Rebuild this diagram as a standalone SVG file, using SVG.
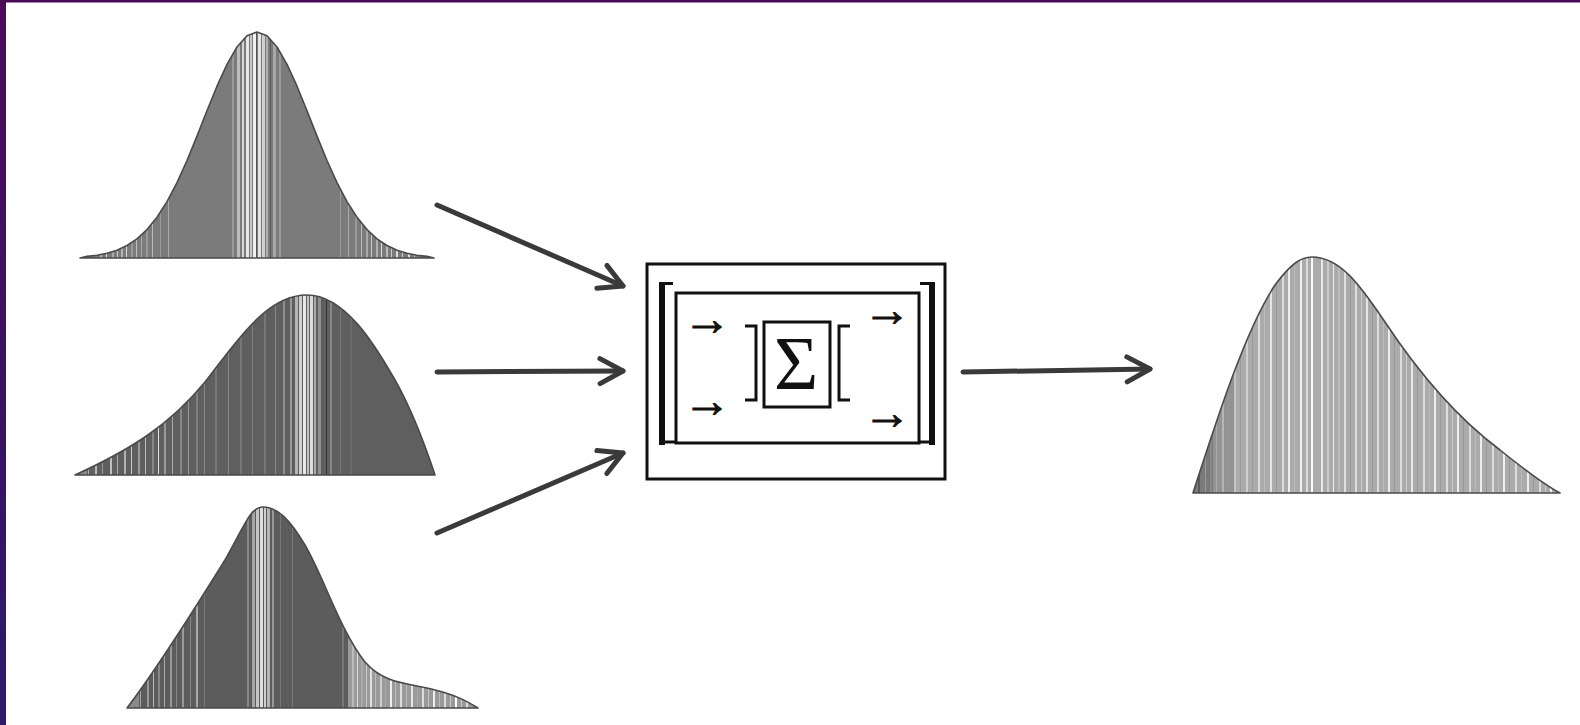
<svg xmlns="http://www.w3.org/2000/svg" xmlns:xlink="http://www.w3.org/1999/xlink" width="1580" height="725" viewBox="0 0 1580 725">
<style>
.outline{fill:none;stroke:#4a4a4a;stroke-width:1.6;stroke-linejoin:round}
.conn{fill:none;stroke:#3a3a3a;stroke-width:5;stroke-linecap:round}
.blk{fill:none;stroke:#111;stroke-width:3}
.gl{font-family:"Liberation Serif","DejaVu Serif",serif;fill:#111}
.arr{font-size:48px;stroke:#111;stroke-width:0.9}
#c1s rect{y:28px;height:234px}
#c2s rect{y:290px;height:190px}
#c3s rect{y:500px;height:212px}
#c4s rect{y:252px;height:244px}
</style>
<defs>
<linearGradient id="frame" x1="0" y1="0" x2="0" y2="1">
<stop offset="0" stop-color="#4b0a57"/><stop offset="1" stop-color="#2c1a6b"/>
</linearGradient>
<marker id="ah" markerUnits="userSpaceOnUse" viewBox="-30 -18 36 36" refX="0" refY="0" markerWidth="36" markerHeight="36" orient="auto">
<path d="M-23,-12.5 L0,0 L-23,12.5" fill="none" stroke="#3a3a3a" stroke-width="5" stroke-linecap="round" stroke-linejoin="round"/>
</marker>
<path id="p1" d="M80,258 L87,256.4 97,255.2 107,253.2 117,250.2 127,245.5 137,238.9 147,229.6 157,217.3 167,201.6 177,182.6 187,160.5 197,136.1 207,110.8 217,86.2 227,64.3 237,47 247,35.8 257,32 267,35.8 277,47 287,64.3 297,86.2 307,110.8 317,136.1 327,160.5 337,182.6 347,201.6 357,217.3 367,229.6 377,238.9 387,245.5 397,250.2 407,253.2 417,255.2 427,256.4 434,258 Z"/>
<path id="p2" d="M75,475 C130,450 170,425 205,382 C245,330 270,295 307,295 C345,295 375,345 395,380 C412,410 425,445 435,475 Z"/>
<path id="p3" d="M127,708 C160,665 200,600 225,560 C245,525 250,507 263,507 C278,507 290,520 305,545 C325,580 340,630 365,662 C385,685 410,683 435,690 C455,695 465,700 478,708 Z"/>
<path id="p4" d="M1193,493 C1215,425 1245,330 1275,285 C1290,265 1300,257 1312,257 C1340,257 1360,285 1385,322 C1420,375 1460,420 1500,450 C1525,470 1545,485 1560,493 Z"/>
<clipPath id="k1"><use xlink:href="#p1"/></clipPath>
<clipPath id="k2"><use xlink:href="#p2"/></clipPath>
<clipPath id="k3"><use xlink:href="#p3"/></clipPath>
<clipPath id="k4"><use xlink:href="#p4"/></clipPath>
</defs>
<rect x="0" y="0" width="1580" height="725" fill="#ffffff"/>
<rect x="0" y="0" width="1580" height="2.5" fill="#4b0a57"/>
<rect x="0" y="0" width="6" height="725" fill="url(#frame)"/>

<g id="dist1">
<use xlink:href="#p1" fill="#7b7b7b"/>
<g id="c1s" clip-path="url(#k1)">
<rect x="100" width="2" fill="#bbb"/><rect x="106" width="1" fill="#ddd"/><rect x="112" width="2" fill="#aaa"/><rect x="117" width="1" fill="#ccc"/><rect x="121" width="2" fill="#b5b5b5"/><rect x="126" width="1" fill="#ddd"/><rect x="131" width="2" fill="#999"/><rect x="136" width="1" fill="#c0c0c0"/><rect x="141" width="1" fill="#aaa"/><rect x="146" width="2" fill="#999"/><rect x="152" width="1" fill="#bbb"/><rect x="160" width="1" fill="#999"/><rect x="168" width="1" fill="#aaa"/>
<rect x="232" width="2" fill="#999"/><rect x="237" width="3" fill="#bdbdbd"/><rect x="242" width="2" fill="#d5d5d5"/><rect x="246" width="3" fill="#e8e8e8"/><rect x="250" width="2" fill="#c8c8c8"/><rect x="253" width="3" fill="#f0f0f0"/><rect x="256" width="1" fill="#555"/><rect x="258" width="3" fill="#e5e5e5"/><rect x="262" width="3" fill="#cfcfcf"/><rect x="266" width="2" fill="#b0b0b0"/><rect x="270" width="1" fill="#555"/><rect x="273" width="3" fill="#a8a8a8"/><rect x="279" width="2" fill="#9a9a9a"/>
<rect x="340" width="1" fill="#999"/><rect x="348" width="1" fill="#aaa"/><rect x="355" width="2" fill="#999"/><rect x="361" width="1" fill="#bbb"/><rect x="366" width="2" fill="#aaa"/><rect x="371" width="1" fill="#ccc"/><rect x="376" width="2" fill="#b0b0b0"/><rect x="381" width="1" fill="#ddd"/><rect x="386" width="2" fill="#bbb"/><rect x="391" width="1" fill="#ccc"/><rect x="396" width="2" fill="#ddd"/><rect x="402" width="1" fill="#ccc"/><rect x="408" width="2" fill="#ddd"/><rect x="414" width="1" fill="#ccc"/>
</g>
<use xlink:href="#p1" class="outline"/>
</g>

<g id="dist2">
<use xlink:href="#p2" fill="#5f5f5f"/>
<g id="c2s" clip-path="url(#k2)">
<rect x="75" width="12" fill="#8a8a8a"/>
<rect x="88" width="1" fill="#aaa"/><rect x="95" width="2" fill="#bbb"/><rect x="102" width="1" fill="#999"/><rect x="110" width="2" fill="#c0c0c0"/><rect x="117" width="1" fill="#aaa"/><rect x="124" width="2" fill="#b0b0b0"/><rect x="131" width="1" fill="#ccc"/><rect x="138" width="2" fill="#999"/><rect x="145" width="1" fill="#bbb"/><rect x="152" width="2" fill="#888"/><rect x="158" width="1" fill="#ddd"/><rect x="164" width="2" fill="#999"/><rect x="172" width="1" fill="#aaa"/><rect x="180" width="2" fill="#888"/><rect x="188" width="1" fill="#999"/><rect x="196" width="2" fill="#808080"/><rect x="204" width="1" fill="#8a8a8a"/><rect x="215" width="2" fill="#777"/><rect x="228" width="1" fill="#888"/><rect x="240" width="2" fill="#777"/><rect x="252" width="1" fill="#808080"/><rect x="264" width="2" fill="#777"/><rect x="275" width="1" fill="#888"/><rect x="283" width="2" fill="#8f8f8f"/>
<rect x="290" width="2" fill="#999"/><rect x="295" width="3" fill="#b5b5b5"/><rect x="299" width="3" fill="#d0d0d0"/><rect x="303" width="3" fill="#e8e8e8"/><rect x="307" width="2" fill="#c5c5c5"/><rect x="310" width="3" fill="#dcdcdc"/><rect x="314" width="2" fill="#aaa"/><rect x="318" width="3" fill="#8f8f8f"/><rect x="326" width="1" fill="#333"/><rect x="330" width="2" fill="#888"/><rect x="340" width="1" fill="#777"/><rect x="350" width="2" fill="#6a6a6a"/>
</g>
<use xlink:href="#p2" class="outline"/>
</g>

<g id="dist3">
<use xlink:href="#p3" fill="#5c5c5c"/>
<g id="c3s" clip-path="url(#k3)">
<rect x="127" width="12" fill="#8a8a8a"/>
<rect x="140" width="1" fill="#aaa"/><rect x="147" width="2" fill="#999"/><rect x="153" width="1" fill="#bbb"/><rect x="158" width="2" fill="#888"/><rect x="164" width="1" fill="#aaa"/><rect x="170" width="2" fill="#999"/><rect x="176" width="1" fill="#888"/><rect x="182" width="2" fill="#999"/><rect x="190" width="1" fill="#888"/><rect x="196" width="2" fill="#aaa"/><rect x="204" width="1" fill="#777"/>
<rect x="247" width="2" fill="#888"/><rect x="252" width="3" fill="#a5a5a5"/><rect x="256" width="3" fill="#c5c5c5"/><rect x="260" width="3" fill="#dedede"/><rect x="264" width="2" fill="#cfcfcf"/><rect x="267" width="3" fill="#b5b5b5"/><rect x="272" width="2" fill="#999"/><rect x="280" width="1" fill="#777"/><rect x="292" width="1" fill="#777"/>
<rect x="342" width="2" fill="#777"/><rect x="348" width="130" fill="#9a9a9a"/>
<rect x="352" width="2" fill="#bbb"/><rect x="357" width="1" fill="#ddd"/><rect x="361" width="2" fill="#aaa"/><rect x="366" width="1" fill="#ccc"/><rect x="370" width="2" fill="#e0e0e0"/><rect x="375" width="1" fill="#bbb"/><rect x="380" width="2" fill="#d0d0d0"/><rect x="385" width="1" fill="#aaa"/><rect x="390" width="2" fill="#eee"/><rect x="395" width="1" fill="#c0c0c0"/><rect x="400" width="2" fill="#ddd"/><rect x="406" width="1" fill="#bbb"/><rect x="411" width="2" fill="#e5e5e5"/><rect x="417" width="1" fill="#aaa"/><rect x="422" width="2" fill="#ddd"/><rect x="428" width="1" fill="#c5c5c5"/><rect x="433" width="2" fill="#eee"/><rect x="439" width="1" fill="#bbb"/><rect x="444" width="2" fill="#ddd"/><rect x="450" width="1" fill="#ccc"/><rect x="455" width="2" fill="#fff"/><rect x="461" width="1" fill="#ccc"/><rect x="466" width="2" fill="#ddd"/>
</g>
<use xlink:href="#p3" class="outline"/>
</g>

<g id="dist-out">
<use xlink:href="#p4" fill="#ababab"/>
<g id="c4s" clip-path="url(#k4)">
<rect x="1193" width="20" fill="#7a7a7a"/><rect x="1213" width="22" fill="#939393"/>
<rect x="1198" width="2" fill="#5a5a5a"/><rect x="1205" width="1" fill="#999"/><rect x="1210" width="2" fill="#888"/><rect x="1216" width="1" fill="#aaa"/><rect x="1222" width="2" fill="#b5b5b5"/><rect x="1228" width="1" fill="#999"/><rect x="1234" width="2" fill="#c5c5c5"/><rect x="1240" width="1" fill="#999"/><rect x="1246" width="2" fill="#d0d0d0"/><rect x="1252" width="1" fill="#9a9a9a"/><rect x="1258" width="2" fill="#ddd"/><rect x="1264" width="1" fill="#bbb"/><rect x="1270" width="2" fill="#e5e5e5"/><rect x="1276" width="1" fill="#999"/><rect x="1282" width="2" fill="#ddd"/><rect x="1288" width="2" fill="#eee"/><rect x="1294" width="1" fill="#bbb"/><rect x="1300" width="2" fill="#f0f0f0"/><rect x="1306" width="2" fill="#ddd"/><rect x="1311" width="2" fill="#fafafa"/><rect x="1316" width="1" fill="#aaa"/><rect x="1321" width="2" fill="#e8e8e8"/><rect x="1327" width="2" fill="#ccc"/><rect x="1333" width="1" fill="#eee"/><rect x="1338" width="2" fill="#bbb"/><rect x="1344" width="2" fill="#e0e0e0"/><rect x="1350" width="1" fill="#999"/><rect x="1355" width="2" fill="#ddd"/><rect x="1361" width="1" fill="#ccc"/><rect x="1366" width="2" fill="#e5e5e5"/><rect x="1372" width="1" fill="#999"/><rect x="1377" width="2" fill="#ddd"/><rect x="1383" width="1" fill="#bbb"/><rect x="1388" width="2" fill="#eee"/><rect x="1394" width="1" fill="#999"/><rect x="1400" width="2" fill="#ddd"/><rect x="1406" width="1" fill="#ccc"/><rect x="1411" width="2" fill="#e8e8e8"/><rect x="1417" width="1" fill="#999"/><rect x="1423" width="2" fill="#ddd"/><rect x="1429" width="1" fill="#bbb"/><rect x="1434" width="2" fill="#eee"/><rect x="1440" width="1" fill="#999"/><rect x="1446" width="2" fill="#ddd"/><rect x="1452" width="1" fill="#ccc"/><rect x="1457" width="2" fill="#eee"/><rect x="1463" width="1" fill="#999"/><rect x="1469" width="2" fill="#ddd"/><rect x="1475" width="1" fill="#bbb"/><rect x="1480" width="2" fill="#eee"/><rect x="1486" width="1" fill="#999"/><rect x="1492" width="2" fill="#ddd"/><rect x="1498" width="1" fill="#bbb"/><rect x="1503" width="2" fill="#eee"/><rect x="1509" width="1" fill="#999"/><rect x="1515" width="2" fill="#ddd"/><rect x="1521" width="1" fill="#bbb"/><rect x="1527" width="2" fill="#eee"/><rect x="1533" width="1" fill="#999"/><rect x="1539" width="2" fill="#ddd"/><rect x="1545" width="1" fill="#ccc"/><rect x="1550" width="2" fill="#eee"/>
</g>
<use xlink:href="#p4" class="outline"/>
</g>

<g id="sum-block">
<rect x="647" y="264" width="298" height="215" class="blk" fill="#fff"/>
<rect x="659" y="282" width="6" height="163" fill="#111"/>
<path d="M659,283.5 H673 M659,442 H676" class="blk"/>
<rect x="929" y="282" width="6" height="163" fill="#111"/>
<path d="M935,283.5 H920 M935,442 H919" class="blk"/>
<rect x="676" y="293" width="243" height="150" class="blk"/>
<text x="707" y="335" class="gl arr" text-anchor="middle">→</text>
<text x="707" y="417" class="gl arr" text-anchor="middle">→</text>
<text x="887" y="326" class="gl arr" text-anchor="middle">→</text>
<text x="887" y="429" class="gl arr" text-anchor="middle">→</text>
<path d="M745,326 H756 V400 H745" class="blk"/>
<path d="M850,326 H839 V400 H850" class="blk"/>
<rect x="764" y="322" width="66" height="85" class="blk"/>
<text x="796" y="389" class="gl" font-size="76" text-anchor="middle">Σ</text>
</g>

<g id="connectors">
<line x1="437" y1="205" x2="623" y2="286" class="conn" marker-end="url(#ah)"/>
<line x1="437" y1="372" x2="623" y2="371" class="conn" marker-end="url(#ah)"/>
<line x1="437" y1="533" x2="623" y2="453" class="conn" marker-end="url(#ah)"/>
<line x1="963" y1="372" x2="1150" y2="369" class="conn" marker-end="url(#ah)"/>
</g>
</svg>
